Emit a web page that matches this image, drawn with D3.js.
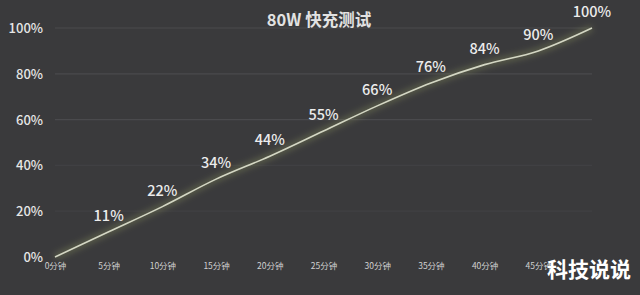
<!DOCTYPE html>
<html><head><meta charset="utf-8">
<script src="https://cdn.jsdelivr.net/npm/d3@7"></script>
<style>html,body{margin:0;padding:0;background:#3a3a3c;overflow:hidden}</style>
</head><body>
<svg id="c" width="640" height="295"></svg>
<script>
const minutes = [0,5,10,15,20,25,30,35,40,45,50];
const charge = [0,11,22,34,44,55,66,76,84,90,100];
const xTickLabels = ["0分钟","5分钟","10分钟","15分钟","20分钟","25分钟","30分钟","35分钟","40分钟","45分钟"];
const yTicks = [0,20,40,60,80,100];
const title = "80W 快充测试";
const watermark = "科技说说";

const svg = d3.select("#c");
svg.append("rect").attr("width",640).attr("height",295).attr("fill","#3a3a3c");
const x = d3.scaleLinear().domain([0,50]).range([55,592]);
const y = d3.scaleLinear().domain([0,100]).range([257,28]);
const font = "'Noto Sans CJK SC', 'Noto Sans', sans-serif";

// gridlines
svg.append("g").selectAll("line").data(yTicks.filter(d=>d>0)).join("line")
  .attr("x1",x(0)).attr("x2",x(50)).attr("y1",d=>y(d)).attr("y2",d=>y(d))
  .attr("stroke", d=> d>=60 ? "#4a4a4d" : "#404043").attr("stroke-width",1.2);

// y axis labels
const yAxis = d3.axisLeft(y).tickValues(yTicks).tickFormat(d=>d+"%").tickSize(0).tickPadding(0);
const ya = svg.append("g").attr("transform","translate(43,0)").call(yAxis);
ya.select(".domain").remove();
ya.selectAll("text").attr("fill","#e6e6e6").style("font-family",font).style("font-size","13px").style("font-weight","500").attr("dy","0.35em");

// x axis labels
const xAxis = d3.axisBottom(x).tickValues(minutes.slice(0,10)).tickFormat((d,i)=>xTickLabels[i]).tickSize(0).tickPadding(0);
const xa = svg.append("g").attr("transform","translate(0,264)").call(xAxis);
xa.select(".domain").remove();
xa.selectAll("text").attr("fill","#d0d0d0").style("font-family",font).style("font-size","8.5px").attr("dy","0.6em");

// glow
const defs = svg.append("defs");
const f = defs.append("filter").attr("id","glow").attr("x","-20%").attr("y","-50%").attr("width","140%").attr("height","200%");
f.append("feGaussianBlur").attr("stdDeviation",3);

const line = d3.line().x((d,i)=>x(minutes[i])).y(d=>y(d)).curve(d3.curveMonotoneX);
svg.append("path").datum(charge).attr("d",line).attr("fill","none")
  .attr("stroke","#a9b46a").attr("stroke-opacity",0.3).attr("stroke-width",6).attr("filter","url(#glow)");
svg.append("path").datum(charge).attr("d",line).attr("fill","none")
  .attr("stroke","#d4d7c4").attr("stroke-width",1.6);

// value labels (no label at the starting 0% point)
svg.append("g").selectAll("text").data(charge.map((v,i)=>({v,m:minutes[i]})).filter(d=>d.v>0)).join("text")
  .attr("x",d=>x(d.m)).attr("y",d=>y(d.v)-11)
  .attr("text-anchor","middle").attr("fill","#ececec")
  .style("font-family",font).style("font-size","14.5px").style("font-weight","500")
  .text(d=>d.v+"%");

// title
svg.append("text").attr("x",319).attr("y",26).attr("text-anchor","middle")
  .attr("fill","#e2e2e2").style("font-family",font).style("font-size","16.5px").style("font-weight","bold")
  .text(title);

// watermark (overlaps the 45分钟 tick label, as in the reference)
svg.append("text").attr("x",631).attr("y",277).attr("text-anchor","end")
  .attr("fill","#ffffff").style("font-family",font).style("font-size","21px").style("font-weight","bold")
  .text(watermark);
</script>
</body></html>
